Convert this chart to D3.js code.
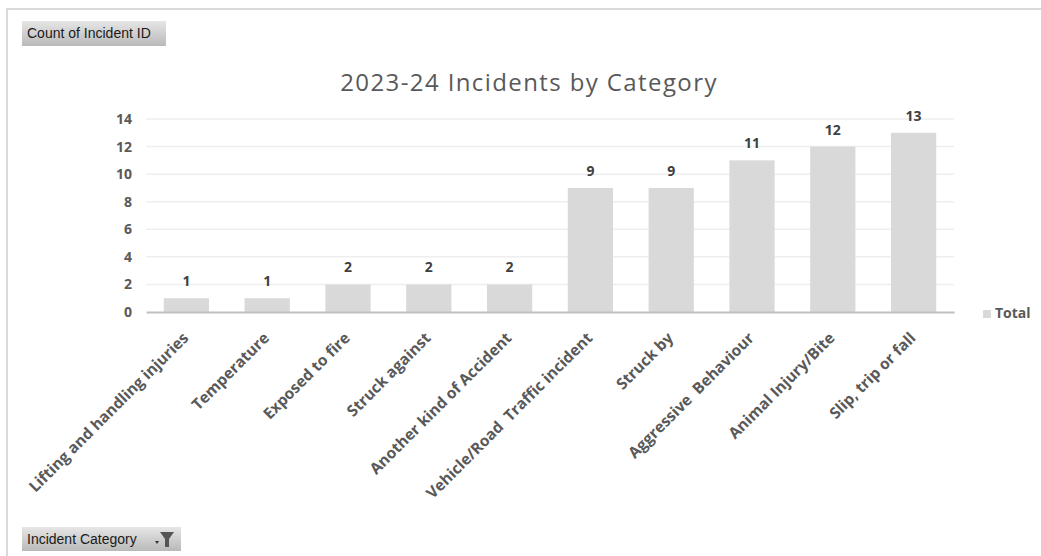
<!DOCTYPE html>
<html>
<head>
<meta charset="utf-8">
<script src="https://cdn.jsdelivr.net/npm/d3@7"></script>
<style>
  body { margin: 0; background: #fff; }
  text { font-family: "Open Sans", "Liberation Sans", sans-serif; }
</style>
</head>
<body>
<div id="chart"></div>
<script>
var categories = ["Lifting and handling injuries", "Temperature", "Exposed to fire", "Struck against",
  "Another kind of Accident", "Vehicle/Road  Traffic incident", "Struck by", "Aggressive  Behaviour",
  "Animal Injury/Bite", "Slip, trip or fall"];
var totals = [1, 1, 2, 2, 2, 9, 9, 11, 12, 13];
var yTicks = [0, 2, 4, 6, 8, 10, 12, 14];

var W = 1041, H = 556;
var margin = {top: 119, right: 87, bottom: 244, left: 146},
    width = W - margin.left - margin.right,
    height = H - margin.top - margin.bottom;

var svg = d3.select("#chart").append("svg")
    .attr("width", W)
    .attr("height", H);

// outer frame
svg.append("path")
    .attr("d", "M7,556 L7,9 L1041,9")
    .attr("fill", "none")
    .attr("stroke", "#d9d9d9")
    .attr("stroke-width", 2);

// pivot field buttons
var defs = svg.append("defs");
var grad = defs.append("linearGradient").attr("id", "btn").attr("x1", 0).attr("x2", 0).attr("y1", 0).attr("y2", 1);
grad.append("stop").attr("offset", "0%").attr("stop-color", "#e6e6e6");
grad.append("stop").attr("offset", "100%").attr("stop-color", "#b9b9b9");

svg.append("rect").attr("x", 22).attr("y", 21).attr("width", 144).attr("height", 25).attr("fill", "url(#btn)");
svg.append("text").attr("x", 27).attr("y", 38).attr("font-size", 14).attr("fill", "#1a1a1a")
    .style("font-family", "'Liberation Sans Narrow', 'Liberation Sans', sans-serif")
    .text("Count of Incident ID");

svg.append("rect").attr("x", 22).attr("y", 527).attr("width", 159).attr("height", 24).attr("fill", "url(#btn)");
svg.append("text").attr("x", 27).attr("y", 544).attr("font-size", 14).attr("fill", "#1a1a1a")
    .style("font-family", "'Liberation Sans Narrow', 'Liberation Sans', sans-serif")
    .text("Incident Category");
// dropdown arrow + filter icon
svg.append("path").attr("d", "M155,541 L159,541 L157,544 Z").attr("fill", "#333");
svg.append("path").attr("d", "M160,532 L174,532 L169,539 L169,547 L165,547 L165,539 Z").attr("fill", "#555");

// title
svg.append("text")
    .attr("x", 529).attr("y", 91)
    .attr("text-anchor", "middle")
    .attr("font-size", 24)
    .attr("fill", "#595959")
    .attr("letter-spacing", 1.4)
    .text("2023-24 Incidents by Category");

var g = svg.append("g").attr("transform", "translate(" + margin.left + "," + margin.top + ")");

var x = d3.scaleBand().domain(categories).range([0, width]).paddingInner(0.44).paddingOuter(0.22);
var y = d3.scaleLinear().domain([0, 14]).range([height, 0]);

// gridlines
g.append("g").selectAll("line")
  .data(yTicks.filter(function(d) { return d > 0; }))
  .enter().append("line")
    .attr("x1", 0).attr("x2", width)
    .attr("y1", function(d) { return y(d); })
    .attr("y2", function(d) { return y(d); })
    .attr("stroke", "#eeeeee")
    .attr("stroke-width", 1.5);

// y axis
var yAxis = g.append("g").call(d3.axisLeft(y).tickValues(yTicks).tickSize(0).tickPadding(14));
yAxis.select(".domain").remove();
yAxis.selectAll("text")
    .attr("font-size", 14)
    .attr("font-weight", "bold")
    .attr("fill", "#595959");

// bars
g.selectAll("rect.bar")
  .data(totals)
  .enter().append("rect")
    .attr("class", "bar")
    .attr("x", function(d, i) { return x(categories[i]); })
    .attr("y", function(d) { return y(d); })
    .attr("width", x.bandwidth())
    .attr("height", function(d) { return height - y(d); })
    .attr("fill", "#d9d9d9");

// data labels
g.selectAll("text.lbl")
  .data(totals)
  .enter().append("text")
    .attr("class", "lbl")
    .attr("x", function(d, i) { return x(categories[i]) + x.bandwidth() / 2; })
    .attr("y", function(d) { return y(d) - 12; })
    .attr("text-anchor", "middle")
    .attr("font-size", 14)
    .attr("font-weight", "bold")
    .attr("fill", "#404040")
    .text(function(d) { return d; });

// x axis
var xAxis = g.append("g").attr("transform", "translate(0," + height + ")")
    .call(d3.axisBottom(x).tickSize(0).tickPadding(0));
xAxis.select(".domain").attr("stroke", "#bfbfbf").attr("stroke-width", 2);
xAxis.selectAll("text")
    .attr("font-size", 15.5)
    .attr("font-weight", "bold")
    .attr("fill", "#595959")
    .attr("text-anchor", "end")
    .attr("dy", 0)
    .attr("y", 0)
    .style("white-space", "pre")
    .attr("transform", "translate(3,27) rotate(-45)");

// legend
svg.append("rect").attr("x", 983).attr("y", 310).attr("width", 8).attr("height", 8).attr("fill", "#d9d9d9");
svg.append("text").attr("x", 995).attr("y", 318)
    .attr("font-size", 14).attr("font-weight", "bold").attr("fill", "#595959")
    .text("Total");
</script>
</body>
</html>
